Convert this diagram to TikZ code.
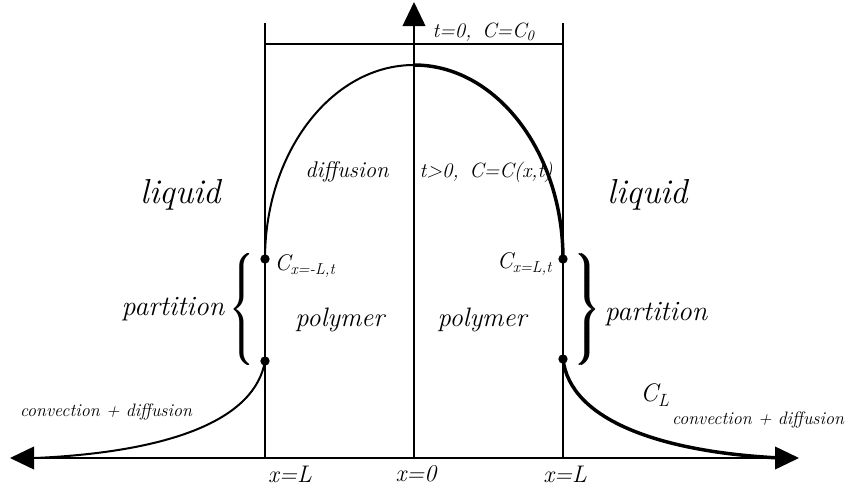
\documentclass[tikz,border=0pt]{standalone}
\usepackage{amsmath,amssymb}
\usetikzlibrary{arrows.meta}

\tikzset{
  axis/.style={line width=1.3pt,-{Triangle[length=18pt,width=17pt]}},
  wall/.style={line width=1.3pt},
  thin curve/.style={line width=1.5pt},
  thick curve/.style={line width=2.6pt},
  dot/.style={circle,fill,inner sep=0pt,minimum size=7pt},
  bracebox/.style={inner sep=0pt,font=\fontsize{20}{24}\selectfont},
}
% partition braces, drawn twice for a heavier stroke
\newcommand{\bracebody}{\vrule height 36pt depth 36pt width 0pt}
\newcommand{\lbracefat}{\rlap{$\left\{\bracebody\right.$}\kern0.9pt$\left\{\bracebody\right.$}
\newcommand{\rbracefat}{\rlap{$\left.\bracebody\right\}$}\kern0.9pt$\left.\bracebody\right\}$}

\begin{document}
\begin{tikzpicture}[x=0.75pt,y=-0.75pt]
\useasboundingbox (0,0) rectangle (848,493);
% axes
\coordinate (O) at (414,458);
\coordinate (xl) at (10,458);
\coordinate (xr) at (799,458);
\coordinate (yt) at (414,2);
\draw[axis] (O) -- (xl);
\draw[axis] (O) -- (xr);
\draw[axis] (O) -- (yt);
% walls
\coordinate (wlb) at (265,458);
\coordinate (wlt) at (265,23);
\coordinate (wrb) at (563,458);
\coordinate (wrt) at (563,23);
\draw[wall] (wlb) -- (wlt);
\draw[wall] (wrb) -- (wrt);
\coordinate (tl) at (265,44);
\coordinate (tr) at (563,44);
\draw[wall] (tl) -- (tr);
% interface points
\node[dot] (Cl) at (265,259) {};
\node[dot] (Pl) at (265,361) {};
\node[dot] (Cr) at (563,259) {};
\node[dot] (Pr) at (563,359) {};
\coordinate (peak) at (414,65);
% concentration profile
\draw[thin curve] (Cl.center) .. controls (265,152) and (332,65) .. (peak);
\draw[thick curve] (peak) .. controls (496,65) and (563,152) .. (Cr.center);
\draw[thin curve] (Pl.center) .. controls (255,420) and (170,452) .. (35,458);
\draw[thick curve] (Pr.center) .. controls (570,420) and (660,452) .. (780,458);
% partition braces
\node[bracebox,anchor=east] (brL) at (256,309) {\lbracefat};
\node[bracebox,anchor=west] (brR) at (573,309) {\rbracefat};
% labels
\node[font=\fontsize{26}{30}\selectfont\itshape] (liqL) at (181,195) {liquid};
\node[font=\fontsize{26}{30}\selectfont\itshape] (liqR) at (648,195) {liquid};
\node[font=\fontsize{21}{25}\selectfont\itshape,anchor=east] (partL) at (brL.west) {partition};
\node[font=\fontsize{21}{25}\selectfont\itshape,anchor=west] (partR) at ([yshift=-4pt]brR.east) {partition};
\node[font=\fontsize{20}{24}\selectfont\itshape] (polL) at (340,320) {polymer};
\node[font=\fontsize{20}{24}\selectfont\itshape] (polR) at (482,320) {polymer};
\node[font=\fontsize{17}{20}\selectfont\itshape] (diff) at (347,172) {diffusion};
\node[font=\fontsize{15.5}{18}\selectfont\itshape,anchor=west] (tgt) at (415,172) {t>0,\, C=C(x,t)};
\node[font=\fontsize{15.5}{18}\selectfont\itshape,anchor=west] (teq) at (428,32) {t=0,\, C=C\textsubscript{0}};
\node[font=\fontsize{17}{20}\selectfont\itshape,anchor=west] (CxL) at (270,266) {C\textsubscript{x=-L,t}};
\node[font=\fontsize{17}{20}\selectfont\itshape,anchor=east] (CxR) at (557,264) {C\textsubscript{x=L,t}};
\node[font=\fontsize{19}{22}\selectfont\itshape] (CL) at (655,395) {C\textsubscript{L}};
\node[font=\fontsize{13.5}{16}\selectfont\itshape] (convL) at (106,412) {convection + diffusion};
\node[font=\fontsize{13.5}{16}\selectfont\itshape] (convR) at (758,420) {convection + diffusion};
\node[font=\fontsize{18}{21}\selectfont\itshape] (xL) at (290,474) {x=L};
\node[font=\fontsize{18}{21}\selectfont\itshape] (x0) at (416,474) {x=0};
\node[font=\fontsize{18}{21}\selectfont\itshape] (xR) at (565,474) {x=L};
\end{tikzpicture}
\end{document}
